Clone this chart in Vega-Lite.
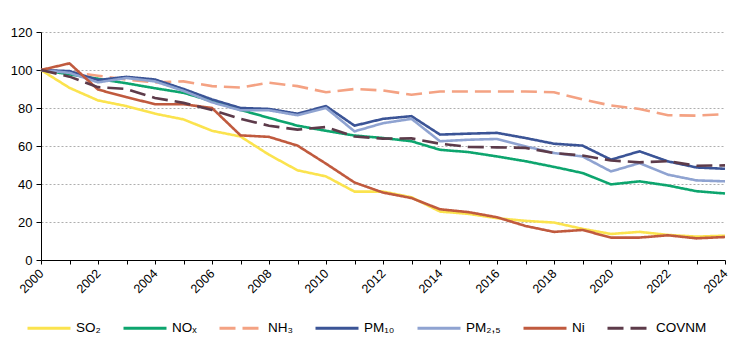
{
  "$schema": "https://vega.github.io/schema/vega-lite/v6.json",
  "width": 684,
  "height": 228,
  "padding": {"left": 41, "top": 32, "right": 20, "bottom": 94},
  "autosize": {"type": "none"},
  "background": "white",
  "config": {
    "font": "Liberation Sans",
    "view": {"stroke": null}
  },
  "data": {
    "values": [
      {"year": 2000, "s": "SO₂", "v": 100}, {"year": 2001, "s": "SO₂", "v": 90.6}, {"year": 2002, "s": "SO₂", "v": 84}, {"year": 2003, "s": "SO₂", "v": 81}, {"year": 2004, "s": "SO₂", "v": 77}, {"year": 2005, "s": "SO₂", "v": 74}, {"year": 2006, "s": "SO₂", "v": 68}, {"year": 2007, "s": "SO₂", "v": 65}, {"year": 2008, "s": "SO₂", "v": 55.4}, {"year": 2009, "s": "SO₂", "v": 47.2}, {"year": 2010, "s": "SO₂", "v": 44}, {"year": 2011, "s": "SO₂", "v": 36}, {"year": 2012, "s": "SO₂", "v": 36}, {"year": 2013, "s": "SO₂", "v": 33}, {"year": 2014, "s": "SO₂", "v": 25.5}, {"year": 2015, "s": "SO₂", "v": 24.3}, {"year": 2016, "s": "SO₂", "v": 22}, {"year": 2017, "s": "SO₂", "v": 20.6}, {"year": 2018, "s": "SO₂", "v": 19.7}, {"year": 2019, "s": "SO₂", "v": 16.4}, {"year": 2020, "s": "SO₂", "v": 13.7}, {"year": 2021, "s": "SO₂", "v": 14.8}, {"year": 2022, "s": "SO₂", "v": 13.2}, {"year": 2023, "s": "SO₂", "v": 12.3}, {"year": 2024, "s": "SO₂", "v": 12.8},

      {"year": 2000, "s": "NOₓ", "v": 100}, {"year": 2001, "s": "NOₓ", "v": 97.7}, {"year": 2002, "s": "NOₓ", "v": 95.4}, {"year": 2003, "s": "NOₓ", "v": 93}, {"year": 2004, "s": "NOₓ", "v": 90.4}, {"year": 2005, "s": "NOₓ", "v": 88}, {"year": 2006, "s": "NOₓ", "v": 83.6}, {"year": 2007, "s": "NOₓ", "v": 79}, {"year": 2008, "s": "NOₓ", "v": 74.8}, {"year": 2009, "s": "NOₓ", "v": 70.7}, {"year": 2010, "s": "NOₓ", "v": 68}, {"year": 2011, "s": "NOₓ", "v": 65.5}, {"year": 2012, "s": "NOₓ", "v": 64.2}, {"year": 2013, "s": "NOₓ", "v": 62.5}, {"year": 2014, "s": "NOₓ", "v": 58}, {"year": 2015, "s": "NOₓ", "v": 56.8}, {"year": 2016, "s": "NOₓ", "v": 54.5}, {"year": 2017, "s": "NOₓ", "v": 52}, {"year": 2018, "s": "NOₓ", "v": 49}, {"year": 2019, "s": "NOₓ", "v": 45.8}, {"year": 2020, "s": "NOₓ", "v": 39.8}, {"year": 2021, "s": "NOₓ", "v": 41.4}, {"year": 2022, "s": "NOₓ", "v": 39.2}, {"year": 2023, "s": "NOₓ", "v": 36.2}, {"year": 2024, "s": "NOₓ", "v": 35},

      {"year": 2000, "s": "NH₃", "v": 100}, {"year": 2001, "s": "NH₃", "v": 99}, {"year": 2002, "s": "NH₃", "v": 97}, {"year": 2003, "s": "NH₃", "v": 95}, {"year": 2004, "s": "NH₃", "v": 93.5}, {"year": 2005, "s": "NH₃", "v": 94}, {"year": 2006, "s": "NH₃", "v": 91.5}, {"year": 2007, "s": "NH₃", "v": 90.8}, {"year": 2008, "s": "NH₃", "v": 93.3}, {"year": 2009, "s": "NH₃", "v": 91.5}, {"year": 2010, "s": "NH₃", "v": 88.3}, {"year": 2011, "s": "NH₃", "v": 90}, {"year": 2012, "s": "NH₃", "v": 89.2}, {"year": 2013, "s": "NH₃", "v": 87}, {"year": 2014, "s": "NH₃", "v": 88.7}, {"year": 2015, "s": "NH₃", "v": 88.7}, {"year": 2016, "s": "NH₃", "v": 88.7}, {"year": 2017, "s": "NH₃", "v": 88.7}, {"year": 2018, "s": "NH₃", "v": 88.3}, {"year": 2019, "s": "NH₃", "v": 84.5}, {"year": 2020, "s": "NH₃", "v": 81.3}, {"year": 2021, "s": "NH₃", "v": 79.5}, {"year": 2022, "s": "NH₃", "v": 76.2}, {"year": 2023, "s": "NH₃", "v": 76}, {"year": 2024, "s": "NH₃", "v": 76.7},

      {"year": 2000, "s": "PM₁₀", "v": 100}, {"year": 2001, "s": "PM₁₀", "v": 99.4}, {"year": 2002, "s": "PM₁₀", "v": 94.7}, {"year": 2003, "s": "PM₁₀", "v": 96.4}, {"year": 2004, "s": "PM₁₀", "v": 95}, {"year": 2005, "s": "PM₁₀", "v": 90}, {"year": 2006, "s": "PM₁₀", "v": 84.5}, {"year": 2007, "s": "PM₁₀", "v": 80}, {"year": 2008, "s": "PM₁₀", "v": 79.5}, {"year": 2009, "s": "PM₁₀", "v": 77}, {"year": 2010, "s": "PM₁₀", "v": 81}, {"year": 2011, "s": "PM₁₀", "v": 70.7}, {"year": 2012, "s": "PM₁₀", "v": 74.3}, {"year": 2013, "s": "PM₁₀", "v": 75.7}, {"year": 2014, "s": "PM₁₀", "v": 66}, {"year": 2015, "s": "PM₁₀", "v": 66.5}, {"year": 2016, "s": "PM₁₀", "v": 66.9}, {"year": 2017, "s": "PM₁₀", "v": 64.2}, {"year": 2018, "s": "PM₁₀", "v": 61.2}, {"year": 2019, "s": "PM₁₀", "v": 60.2}, {"year": 2020, "s": "PM₁₀", "v": 52.8}, {"year": 2021, "s": "PM₁₀", "v": 57.2}, {"year": 2022, "s": "PM₁₀", "v": 51.9}, {"year": 2023, "s": "PM₁₀", "v": 48.7}, {"year": 2024, "s": "PM₁₀", "v": 48},

      {"year": 2000, "s": "PM₂,₅", "v": 100}, {"year": 2001, "s": "PM₂,₅", "v": 98.5}, {"year": 2002, "s": "PM₂,₅", "v": 93.5}, {"year": 2003, "s": "PM₂,₅", "v": 95.8}, {"year": 2004, "s": "PM₂,₅", "v": 94}, {"year": 2005, "s": "PM₂,₅", "v": 89}, {"year": 2006, "s": "PM₂,₅", "v": 83}, {"year": 2007, "s": "PM₂,₅", "v": 78.8}, {"year": 2008, "s": "PM₂,₅", "v": 78.8}, {"year": 2009, "s": "PM₂,₅", "v": 76.2}, {"year": 2010, "s": "PM₂,₅", "v": 80}, {"year": 2011, "s": "PM₂,₅", "v": 67.7}, {"year": 2012, "s": "PM₂,₅", "v": 72}, {"year": 2013, "s": "PM₂,₅", "v": 74.3}, {"year": 2014, "s": "PM₂,₅", "v": 62.5}, {"year": 2015, "s": "PM₂,₅", "v": 63.3}, {"year": 2016, "s": "PM₂,₅", "v": 63.7}, {"year": 2017, "s": "PM₂,₅", "v": 59.8}, {"year": 2018, "s": "PM₂,₅", "v": 56.3}, {"year": 2019, "s": "PM₂,₅", "v": 54.5}, {"year": 2020, "s": "PM₂,₅", "v": 46.6}, {"year": 2021, "s": "PM₂,₅", "v": 51}, {"year": 2022, "s": "PM₂,₅", "v": 44.9}, {"year": 2023, "s": "PM₂,₅", "v": 41.9}, {"year": 2024, "s": "PM₂,₅", "v": 41.4},

      {"year": 2000, "s": "Ni", "v": 100}, {"year": 2001, "s": "Ni", "v": 103.5}, {"year": 2002, "s": "Ni", "v": 89.7}, {"year": 2003, "s": "Ni", "v": 85.7}, {"year": 2004, "s": "Ni", "v": 82}, {"year": 2005, "s": "Ni", "v": 82}, {"year": 2006, "s": "Ni", "v": 80}, {"year": 2007, "s": "Ni", "v": 65.6}, {"year": 2008, "s": "Ni", "v": 64.8}, {"year": 2009, "s": "Ni", "v": 60.2}, {"year": 2010, "s": "Ni", "v": 50.7}, {"year": 2011, "s": "Ni", "v": 40.8}, {"year": 2012, "s": "Ni", "v": 35.5}, {"year": 2013, "s": "Ni", "v": 32.6}, {"year": 2014, "s": "Ni", "v": 26.7}, {"year": 2015, "s": "Ni", "v": 25.2}, {"year": 2016, "s": "Ni", "v": 22.5}, {"year": 2017, "s": "Ni", "v": 17.9}, {"year": 2018, "s": "Ni", "v": 14.8}, {"year": 2019, "s": "Ni", "v": 15.8}, {"year": 2020, "s": "Ni", "v": 11.8}, {"year": 2021, "s": "Ni", "v": 11.8}, {"year": 2022, "s": "Ni", "v": 13}, {"year": 2023, "s": "Ni", "v": 11.4}, {"year": 2024, "s": "Ni", "v": 12.1},

      {"year": 2000, "s": "COVNM", "v": 100}, {"year": 2001, "s": "COVNM", "v": 96.5}, {"year": 2002, "s": "COVNM", "v": 91}, {"year": 2003, "s": "COVNM", "v": 90}, {"year": 2004, "s": "COVNM", "v": 85.3}, {"year": 2005, "s": "COVNM", "v": 82.7}, {"year": 2006, "s": "COVNM", "v": 79}, {"year": 2007, "s": "COVNM", "v": 74.3}, {"year": 2008, "s": "COVNM", "v": 70.7}, {"year": 2009, "s": "COVNM", "v": 68.6}, {"year": 2010, "s": "COVNM", "v": 70}, {"year": 2011, "s": "COVNM", "v": 65}, {"year": 2012, "s": "COVNM", "v": 63.9}, {"year": 2013, "s": "COVNM", "v": 64}, {"year": 2014, "s": "COVNM", "v": 61.2}, {"year": 2015, "s": "COVNM", "v": 59.5}, {"year": 2016, "s": "COVNM", "v": 59.3}, {"year": 2017, "s": "COVNM", "v": 59}, {"year": 2018, "s": "COVNM", "v": 56.3}, {"year": 2019, "s": "COVNM", "v": 55}, {"year": 2020, "s": "COVNM", "v": 52.4}, {"year": 2021, "s": "COVNM", "v": 51.4}, {"year": 2022, "s": "COVNM", "v": 52}, {"year": 2023, "s": "COVNM", "v": 49.6}, {"year": 2024, "s": "COVNM", "v": 49.8}
    ]
  },
  "mark": {"type": "line", "strokeWidth": 2.6},
  "encoding": {
    "x": {
      "field": "year",
      "type": "quantitative",
      "scale": {"domain": [2000, 2024], "nice": false, "zero": false},
      "axis": {
        "title": null,
        "values": [2000,2001,2002,2003,2004,2005,2006,2007,2008,2009,2010,2011,2012,2013,2014,2015,2016,2017,2018,2019,2020,2021,2022,2023,2024],
        "labelExpr": "datum.value % 2 === 0 ? format(datum.value, 'd') : ''",
        "labelAngle": -45,
        "labelAlign": "right",
        "labelBaseline": "middle",
        "labelFontSize": 12.5,
        "labelColor": "#000",
        "labelPadding": 7,
        "labelFont": "Liberation Sans",
        "domainColor": "#000",
        "tickColor": "#000",
        "tickSize": 4,
        "grid": false,
        "labelOverlap": false
      }
    },
    "y": {
      "field": "v",
      "type": "quantitative",
      "scale": {"domain": [0, 120], "nice": false},
      "axis": {
        "title": null,
        "values": [0, 20, 40, 60, 80, 100, 120],
        "labelFontSize": 13,
        "labelColor": "#000",
        "labelPadding": 4,
        "domainColor": "#000",
        "tickColor": "#000",
        "tickSize": 5,
        "grid": true,
        "gridColor": "#999",
        "gridDash": [2, 2],
        "gridWidth": 0.8
      }
    },
    "color": {
      "field": "s",
      "type": "nominal",
      "scale": {
        "domain": ["SO₂", "NOₓ", "NH₃", "PM₁₀", "PM₂,₅", "Ni", "COVNM"],
        "range": ["#FBE34E", "#0DA56E", "#F4A283", "#3B5496", "#8FA3D1", "#C05A3E", "#5D3B4A"]
      },
      "sort": ["SO₂", "NOₓ", "NH₃", "PM₁₀", "PM₂,₅", "Ni", "COVNM"],
      "legend": {
        "title": null,
        "orient": "none",
        "legendX": -15,
        "legendY": 273,
        "direction": "horizontal",
        "symbolType": "stroke",
        "symbolSize": 1849,
        "symbolStrokeWidth": 3,
        "labelFontSize": 13.5,
        "labelColor": "#000",
        "labelOffset": 4,
        "columnPadding": 16
      }
    },
    "strokeDash": {
      "field": "s",
      "type": "nominal",
      "scale": {
        "domain": ["SO₂", "NOₓ", "NH₃", "PM₁₀", "PM₂,₅", "Ni", "COVNM"],
        "range": [[1, 0], [1, 0], [16, 7], [1, 0], [1, 0], [1, 0], [16, 7]]
      },
      "legend": null
    }
  }
}
